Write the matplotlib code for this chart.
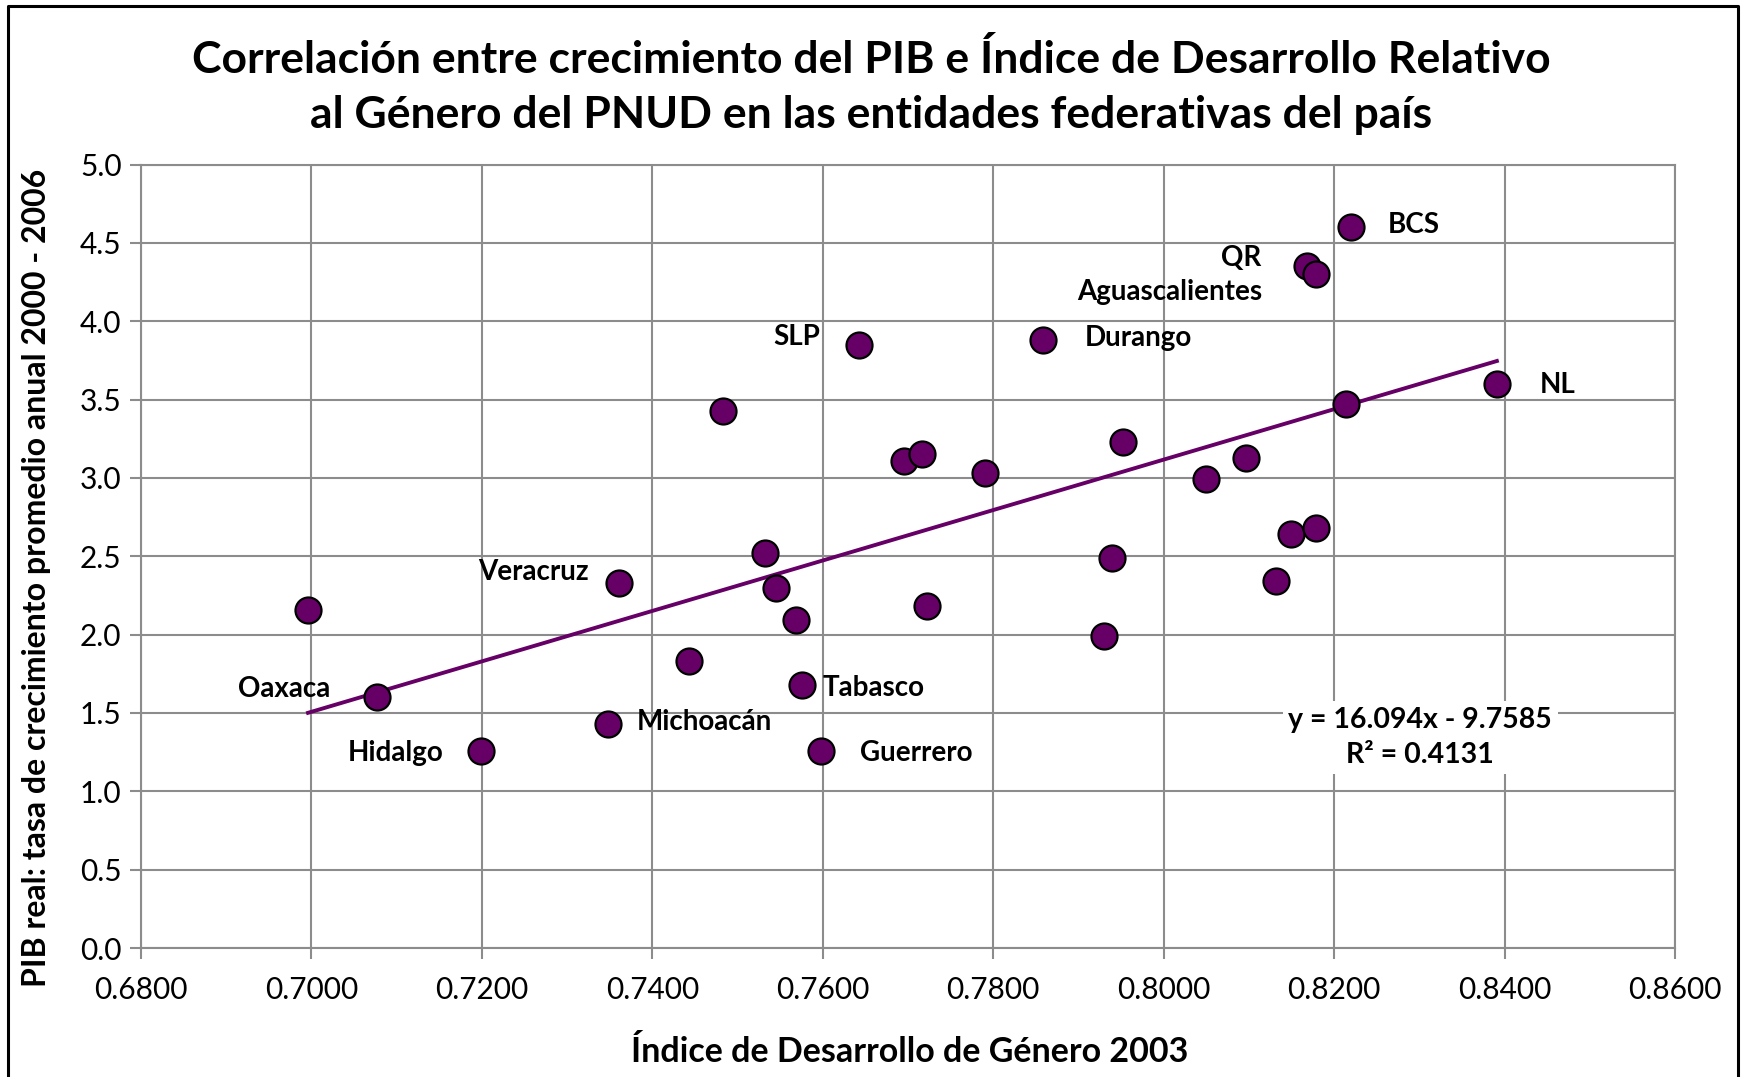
import matplotlib
matplotlib.use("Agg")
import matplotlib.pyplot as plt
import numpy as np

# ---- data ----
states = ["", "Oaxaca", "Hidalgo", "Michoacán", "Veracruz", "", "", "", "", "",
          "Tabasco", "Guerrero", "SLP", "", "", "", "", "Durango", "", "",
          "", "", "", "", "", "QR", "Aguascalientes", "", "", "BCS", "NL"]
idg_2003 = [0.6996, 0.7077, 0.7199, 0.7348, 0.7361, 0.7443, 0.7483, 0.7532, 0.7545, 0.7568,
            0.7576, 0.7598, 0.7643, 0.7695, 0.7716, 0.7722, 0.7790, 0.7858, 0.7930, 0.7939,
            0.7952, 0.8050, 0.8097, 0.8132, 0.8150, 0.8168, 0.8179, 0.8179, 0.8214, 0.8220, 0.8391]
pib_growth = [2.16, 1.60, 1.26, 1.43, 2.33, 1.83, 3.43, 2.52, 2.30, 2.09,
              1.68, 1.26, 3.85, 3.11, 3.15, 2.18, 3.03, 3.88, 1.99, 2.49,
              3.23, 2.99, 3.13, 2.34, 2.64, 4.35, 4.30, 2.68, 3.47, 4.60, 3.60]
slope, intercept = 16.094, -9.7585
r2 = 0.4131
x_ticks = [0.68, 0.70, 0.72, 0.74, 0.76, 0.78, 0.80, 0.82, 0.84, 0.86]
y_ticks = [0.0, 0.5, 1.0, 1.5, 2.0, 2.5, 3.0, 3.5, 4.0, 4.5, 5.0]

title = ("Correlación entre crecimiento del PIB e Índice de Desarrollo Relativo\n"
         "al Género del PNUD en las entidades federativas del país")
xlabel = "Índice de Desarrollo de Género 2003"
ylabel = "PIB real: tasa de crecimiento promedio anual 2000 - 2006"

# ---- layout / style ----
label_offsets = {  # (dx, dy) in pixels, ha
    "BCS": (37, 2, "left"), "QR": (-46, 8, "right"), "Aguascalientes": (-54, -18, "right"),
    "Durango": (42, 2, "left"), "SLP": (-39, 8, "right"), "NL": (43, -1, "left"),
    "Veracruz": (-30, 11, "right"), "Oaxaca": (-47, 8, "right"), "Tabasco": (20, -3, "left"),
    "Michoacán": (29, 2, "left"), "Hidalgo": (-38, -2, "right"), "Guerrero": (39, -2, "left"),
}
FONT = ["Lato", "DejaVu Sans"]
plt.rcParams["font.family"] = FONT
PURPLE = "#660066"
GRID = "#8c8c8c"

fig = plt.figure(figsize=(17.43, 10.77), dpi=100)
ax = fig.add_axes([141 / 1743, 1 - 948 / 1077, (1675 - 141) / 1743, (948 - 164.5) / 1077])

ax.set_xlim(x_ticks[0], x_ticks[-1])
ax.set_ylim(y_ticks[0], y_ticks[-1])
ax.set_xticks(x_ticks)
ax.set_yticks(y_ticks)
ax.set_xticklabels([f"{v:.4f}" for v in x_ticks])
ax.set_yticklabels([f"{v:.1f}" for v in y_ticks])
ax.tick_params(axis="both", labelsize=21.5, color=GRID, length=8, width=1.5, direction="out")
ax.tick_params(axis="x", pad=12)
ax.tick_params(axis="y", pad=6)
ax.grid(True, color=GRID, linewidth=1.5)
ax.set_axisbelow(True)
for s in ax.spines.values():
    s.set_color(GRID)
    s.set_linewidth(1.5)

# trend line
xs = np.array([min(idg_2003), max(idg_2003)])
ax.plot(xs, slope * xs + intercept, color=PURPLE, lw=2.8, zorder=2)

ax.scatter(idg_2003, pib_growth, s=350, color=PURPLE, edgecolors="black", linewidths=1.6, zorder=3)

for name, x, y in zip(states, idg_2003, pib_growth):
    if name:
        dx, dy, ha = label_offsets[name]
        ax.annotate(name, (x, y), xytext=(dx, dy), textcoords="offset pixels",
                    ha=ha, va="center", fontsize=20, fontweight="bold", zorder=4)

ax.text(0.834, 0.269, f"y = {slope:.3f}x - {abs(intercept):.4f}\nR² = {r2:.4f}",
        transform=ax.transAxes, ha="center", va="center", fontsize=20.5, fontweight="bold",
        linespacing=1.45, bbox=dict(facecolor="white", edgecolor="none", pad=4), zorder=4)

fig.text(0.5, 1 - 87 / 1077, title, ha="center", va="center", fontsize=32,
         fontweight="bold", linespacing=1.43)
fig.text(818 * 1.1116 / 1743, 1 - 1052 / 1077, xlabel, ha="center", va="center",
         fontsize=24.5, fontweight="bold")
fig.text(37 / 1743, 1 - 520 * 1.1116 / 1077, ylabel, ha="center", va="center",
         rotation=90, fontsize=23, fontweight="bold")

# outer chart border
fig.add_artist(plt.Line2D([8 / 1743, 8 / 1743, 1738 / 1743, 1738 / 1743],
                          [-0.01, 1 - 6 / 1077, 1 - 6 / 1077, -0.01],
                          transform=fig.transFigure, color="black", lw=2.2))

fig.savefig("out.png", dpi=100, facecolor="white")
